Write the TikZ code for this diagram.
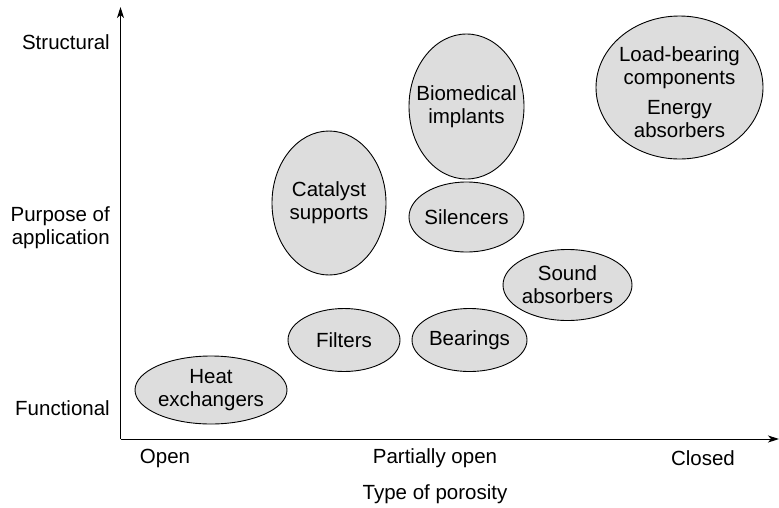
\documentclass[tikz,border=0pt]{standalone}
\usepackage{fontspec}
\setmainfont{Liberation Sans}
\usetikzlibrary{shapes.geometric,arrows.meta}
\definecolor{blobgray}{RGB}{221,221,221}
\begin{document}
\begin{tikzpicture}[x=1pt,y=-1pt,
  txt/.style={font=\fontsize{20.5}{23}\selectfont,inner sep=0pt,align=center},
  blob/.style={ellipse,draw,fill=blobgray,line width=0.9pt,inner sep=0pt},
  axis/.style={line width=1pt,-{Stealth[length=11pt,width=7pt,inset=3pt]}}]
\useasboundingbox (0,0) rectangle (779,507);
% axes
\coordinate (O) at (120.5,439);
\coordinate (ytop) at (120.5,7);
\coordinate (xend) at (779,439);
\draw[axis] (O) -- (ytop);
\draw[axis] (O) -- (xend);
% axis labels
\node[txt,anchor=east] (struct) at (110,42) {Structural};
\node[txt,anchor=east,align=right] (purpose) at (110,228) {Purpose of\\application};
\node[txt,anchor=east] (func) at (110,408) {Functional};
\node[txt] (open) at (165,458) {Open};
\node[txt] (popen) at (435,458) {Partially open};
\node[txt] (closed) at (703,458) {Closed};
\node[txt] (type) at (435,494) {Type of porosity};
% ellipses
\node[blob,minimum width=152pt,minimum height=68pt] (heat) at (211,390) {};
\node[txt] at (heat) {Heat\\exchangers};
\node[blob,minimum width=112pt,minimum height=63pt] (filt) at (344,340) {};
\node[txt] at (filt) {Filters};
\node[blob,minimum width=115pt,minimum height=63pt] (bear) at (469.5,340) {};
\node[txt] at (bear) {Bearings};
\node[blob,minimum width=129pt,minimum height=71pt] (sound) at (567.5,285) {};
\node[txt] at (sound) {Sound\\absorbers};
\node[blob,minimum width=114pt,minimum height=144pt] (cat) at (329,203) {};
\node[txt] at (cat) {Catalyst\\supports};
\node[blob,minimum width=115pt,minimum height=145pt] (bio) at (466.5,106.5) {};
\node[txt] at (bio) {Biomedical\\implants};
\node[blob,minimum width=115pt,minimum height=70pt] (sil) at (466.5,217) {};
\node[txt] at (sil) {Silencers};
\node[blob,minimum width=167pt,minimum height=143pt] (load) at (679.5,87.5) {};
\node[txt] (loadtxt) at (679.5,92) {Load-bearing\\components\\[7pt]Energy\\absorbers};
\end{tikzpicture}
\end{document}
